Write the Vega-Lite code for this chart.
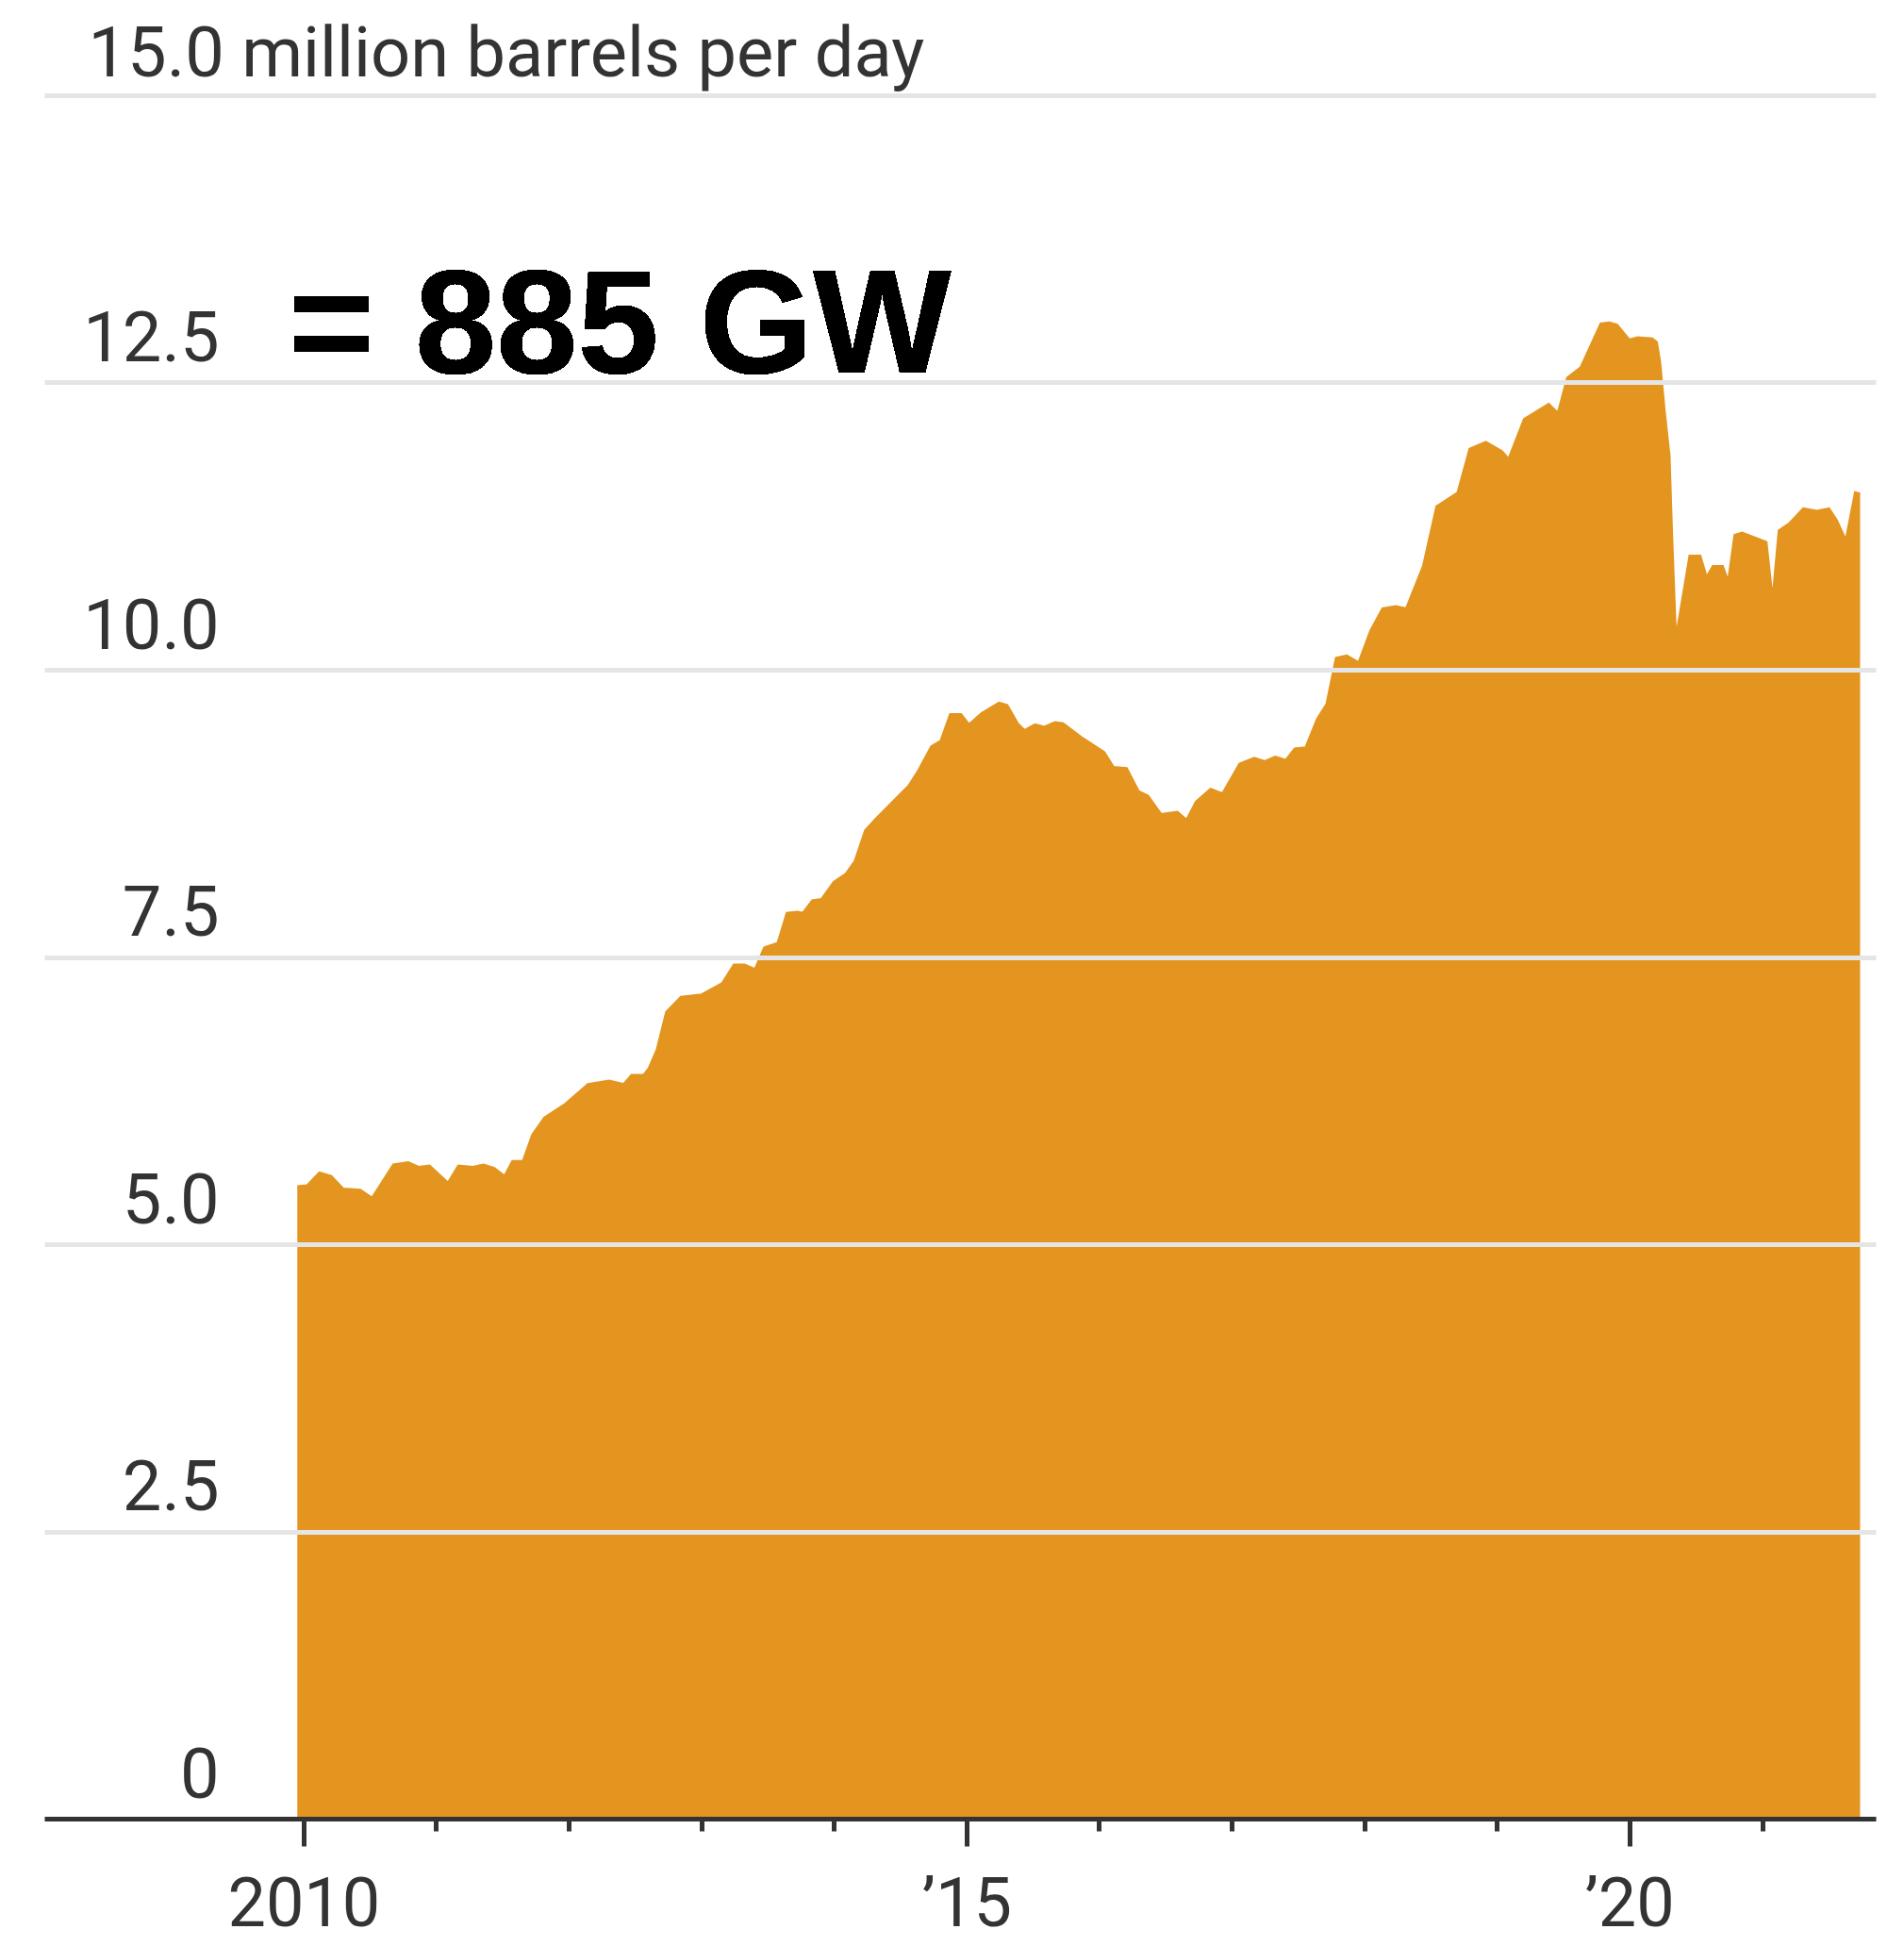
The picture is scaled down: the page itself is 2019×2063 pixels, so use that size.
{
  "$schema": "https://vega.github.io/schema/vega-lite/v6.json",
  "width": 1942,
  "height": 1827,
  "autosize": {"type": "none"},
  "padding": {"left": 47, "top": 101, "right": 30, "bottom": 135},
  "background": "white",
  "config": {"view": {"stroke": null}},
  "data": {"values": [
    {"date": "2009-12-15", "value": 5.50},
    {"date": "2010-01-12", "value": 5.51},
    {"date": "2010-02-14", "value": 5.62},
    {"date": "2010-03-18", "value": 5.59},
    {"date": "2010-04-20", "value": 5.48},
    {"date": "2010-06-06", "value": 5.47},
    {"date": "2010-07-09", "value": 5.40},
    {"date": "2010-09-06", "value": 5.69},
    {"date": "2010-10-16", "value": 5.71},
    {"date": "2010-11-14", "value": 5.67},
    {"date": "2010-12-14", "value": 5.68},
    {"date": "2011-02-03", "value": 5.53},
    {"date": "2011-03-04", "value": 5.68},
    {"date": "2011-04-13", "value": 5.67},
    {"date": "2011-05-12", "value": 5.69},
    {"date": "2011-06-10", "value": 5.66},
    {"date": "2011-07-09", "value": 5.59},
    {"date": "2011-07-31", "value": 5.72},
    {"date": "2011-08-29", "value": 5.72},
    {"date": "2011-09-24", "value": 5.95},
    {"date": "2011-10-27", "value": 6.10},
    {"date": "2011-12-24", "value": 6.22},
    {"date": "2012-02-24", "value": 6.39},
    {"date": "2012-04-22", "value": 6.42},
    {"date": "2012-06-01", "value": 6.39},
    {"date": "2012-06-23", "value": 6.47},
    {"date": "2012-07-26", "value": 6.47},
    {"date": "2012-08-10", "value": 6.53},
    {"date": "2012-09-01", "value": 6.69},
    {"date": "2012-09-27", "value": 7.02},
    {"date": "2012-11-06", "value": 7.15},
    {"date": "2013-01-01", "value": 7.17},
    {"date": "2013-02-28", "value": 7.27},
    {"date": "2013-04-01", "value": 7.43},
    {"date": "2013-04-30", "value": 7.43},
    {"date": "2013-05-29", "value": 7.39},
    {"date": "2013-06-24", "value": 7.58},
    {"date": "2013-07-31", "value": 7.62},
    {"date": "2013-08-25", "value": 7.88},
    {"date": "2013-09-23", "value": 7.89},
    {"date": "2013-10-08", "value": 7.88},
    {"date": "2013-11-03", "value": 7.99},
    {"date": "2013-11-28", "value": 8.00},
    {"date": "2014-01-01", "value": 8.15},
    {"date": "2014-02-03", "value": 8.22},
    {"date": "2014-02-28", "value": 8.33},
    {"date": "2014-03-29", "value": 8.60},
    {"date": "2014-04-27", "value": 8.70},
    {"date": "2014-07-27", "value": 8.99},
    {"date": "2014-08-22", "value": 9.12},
    {"date": "2014-09-27", "value": 9.33},
    {"date": "2014-10-23", "value": 9.38},
    {"date": "2014-11-18", "value": 9.61},
    {"date": "2014-12-17", "value": 9.61},
    {"date": "2015-01-08", "value": 9.52},
    {"date": "2015-02-13", "value": 9.62},
    {"date": "2015-04-01", "value": 9.71},
    {"date": "2015-04-23", "value": 9.69},
    {"date": "2015-05-22", "value": 9.53},
    {"date": "2015-06-10", "value": 9.47},
    {"date": "2015-07-09", "value": 9.52},
    {"date": "2015-08-04", "value": 9.50},
    {"date": "2015-09-02", "value": 9.54},
    {"date": "2015-09-24", "value": 9.53},
    {"date": "2015-11-18", "value": 9.40},
    {"date": "2016-01-15", "value": 9.28},
    {"date": "2016-02-10", "value": 9.15},
    {"date": "2016-03-17", "value": 9.14},
    {"date": "2016-04-19", "value": 8.94},
    {"date": "2016-05-15", "value": 8.90},
    {"date": "2016-06-20", "value": 8.74},
    {"date": "2016-08-04", "value": 8.76},
    {"date": "2016-08-30", "value": 8.69},
    {"date": "2016-09-25", "value": 8.85},
    {"date": "2016-11-04", "value": 8.96},
    {"date": "2016-12-07", "value": 8.92},
    {"date": "2017-01-23", "value": 9.18},
    {"date": "2017-03-04", "value": 9.23},
    {"date": "2017-04-02", "value": 9.20},
    {"date": "2017-05-01", "value": 9.24},
    {"date": "2017-05-30", "value": 9.21},
    {"date": "2017-06-24", "value": 9.31},
    {"date": "2017-07-24", "value": 9.32},
    {"date": "2017-08-25", "value": 9.57},
    {"date": "2017-09-20", "value": 9.70},
    {"date": "2017-10-16", "value": 10.10},
    {"date": "2017-11-14", "value": 10.12},
    {"date": "2017-12-17", "value": 10.06},
    {"date": "2018-01-19", "value": 10.34},
    {"date": "2018-02-21", "value": 10.53},
    {"date": "2018-03-29", "value": 10.55},
    {"date": "2018-04-27", "value": 10.53},
    {"date": "2018-06-13", "value": 10.90},
    {"date": "2018-07-20", "value": 11.42},
    {"date": "2018-09-16", "value": 11.54},
    {"date": "2018-10-19", "value": 11.92},
    {"date": "2018-12-02", "value": 11.98},
    {"date": "2019-01-15", "value": 11.90},
    {"date": "2019-02-03", "value": 11.83},
    {"date": "2019-03-18", "value": 12.18},
    {"date": "2019-05-24", "value": 12.31},
    {"date": "2019-06-19", "value": 12.23},
    {"date": "2019-07-15", "value": 12.54},
    {"date": "2019-08-21", "value": 12.63},
    {"date": "2019-10-15", "value": 13.01},
    {"date": "2019-11-07", "value": 13.02},
    {"date": "2019-11-28", "value": 13.00},
    {"date": "2020-01-01", "value": 12.87},
    {"date": "2020-01-24", "value": 12.89},
    {"date": "2020-03-04", "value": 12.88},
    {"date": "2020-03-16", "value": 12.85},
    {"date": "2020-03-25", "value": 12.68},
    {"date": "2020-04-06", "value": 12.27},
    {"date": "2020-04-20", "value": 11.86},
    {"date": "2020-04-27", "value": 11.17},
    {"date": "2020-05-08", "value": 10.25},
    {"date": "2020-06-16", "value": 10.99},
    {"date": "2020-07-14", "value": 10.99},
    {"date": "2020-08-01", "value": 10.80},
    {"date": "2020-08-19", "value": 10.90},
    {"date": "2020-09-14", "value": 10.90},
    {"date": "2020-09-30", "value": 10.76},
    {"date": "2020-10-18", "value": 11.17},
    {"date": "2020-11-07", "value": 11.19},
    {"date": "2021-01-12", "value": 11.11},
    {"date": "2021-01-30", "value": 10.59},
    {"date": "2021-02-17", "value": 11.21},
    {"date": "2021-03-17", "value": 11.27},
    {"date": "2021-04-25", "value": 11.40},
    {"date": "2021-06-01", "value": 11.38},
    {"date": "2021-07-04", "value": 11.40},
    {"date": "2021-07-25", "value": 11.30},
    {"date": "2021-08-20", "value": 11.12},
    {"date": "2021-09-15", "value": 11.54},
    {"date": "2021-09-28", "value": 11.53}
  ]},
  "layer": [
    {
      "mark": {"type": "area", "color": "#E3951F", "opacity": 1, "fillOpacity": 1, "interpolate": "linear", "line": {"strokeWidth": 3, "color": "#E3951F"}},
      "encoding": {
        "x": {
          "field": "date",
          "type": "temporal",
          "scale": {"type": "utc", "domain": [{"year": 2008, "month": 1, "date": 18, "utc": true}, {"year": 2021, "month": 11, "date": 10, "utc": true}]},
          "axis": {
            "title": null,
            "values": [
              {"year": 2010, "month": 1, "date": 1, "utc": true},
              {"year": 2011, "month": 1, "date": 1, "utc": true},
              {"year": 2012, "month": 1, "date": 1, "utc": true},
              {"year": 2013, "month": 1, "date": 1, "utc": true},
              {"year": 2014, "month": 1, "date": 1, "utc": true},
              {"year": 2015, "month": 1, "date": 1, "utc": true},
              {"year": 2016, "month": 1, "date": 1, "utc": true},
              {"year": 2017, "month": 1, "date": 1, "utc": true},
              {"year": 2018, "month": 1, "date": 1, "utc": true},
              {"year": 2019, "month": 1, "date": 1, "utc": true},
              {"year": 2020, "month": 1, "date": 1, "utc": true},
              {"year": 2021, "month": 1, "date": 1, "utc": true}
            ],
            "labelExpr": "utcyear(datum.value) == 2010 ? '2010' : (utcyear(datum.value) % 5 == 0 ? '’' + substring(toString(utcyear(datum.value)), 2, 4) : '')",
            "grid": false,
            "domainColor": "#333333",
            "domainWidth": 5,
            "tickColor": "#333333",
            "tickWidth": 5,
            "tickSize": {"condition": {"test": "utcyear(datum.value) % 5 == 0", "value": 29}, "value": 13},
            "labelFont": "Roboto",
            "labelFontSize": 72,
            "labelColor": "#333333",
            "labelBaseline": "alphabetic",
            "labelPadding": 84,
            "labelAngle": 0,
            "labelOverlap": false,
            "labelFlush": false,
            "labelLimit": 0,
            "zindex": 1
          }
        },
        "y": {
          "field": "value",
          "type": "quantitative",
          "scale": {"domain": [0, 15], "nice": false, "zero": true},
          "axis": {
            "title": null,
            "values": [0, 2.5, 5, 7.5, 10, 12.5, 15],
            "labelExpr": "datum.value == 15 ? '15.0 million barrels per day' : (datum.value == 0 ? '0' : format(datum.value, '.1f'))",
            "domain": false,
            "ticks": false,
            "grid": true,
            "gridColor": "#e5e5e5",
            "gridWidth": 5,
            "labelAlign": {"condition": {"test": "datum.value == 15", "value": "left"}, "value": "right"},
            "labelPadding": {"condition": {"test": "datum.value == 15", "value": -46}, "value": -185},
            "labelOffset": {"condition": {"test": "datum.value == 15", "value": -21}, "value": -23},
            "labelBaseline": "alphabetic",
            "labelFont": "Roboto",
            "labelFontSize": 74,
            "labelColor": "#333333",
            "labelOverlap": false,
            "labelFlush": false,
            "labelLimit": 0,
            "zindex": 1
          }
        }
      }
    },
    {
      "mark": {"type": "text", "text": "= 885 GW", "font": "Liberation Sans", "fontWeight": "bold", "fontSize": 155, "align": "left", "baseline": "alphabetic", "color": "#000000"},
      "encoding": {
        "x": {"datum": {"year": 2009, "month": 11, "date": 22, "utc": true}, "type": "temporal"},
        "y": {"datum": 12.586, "type": "quantitative"}
      }
    }
  ]
}
